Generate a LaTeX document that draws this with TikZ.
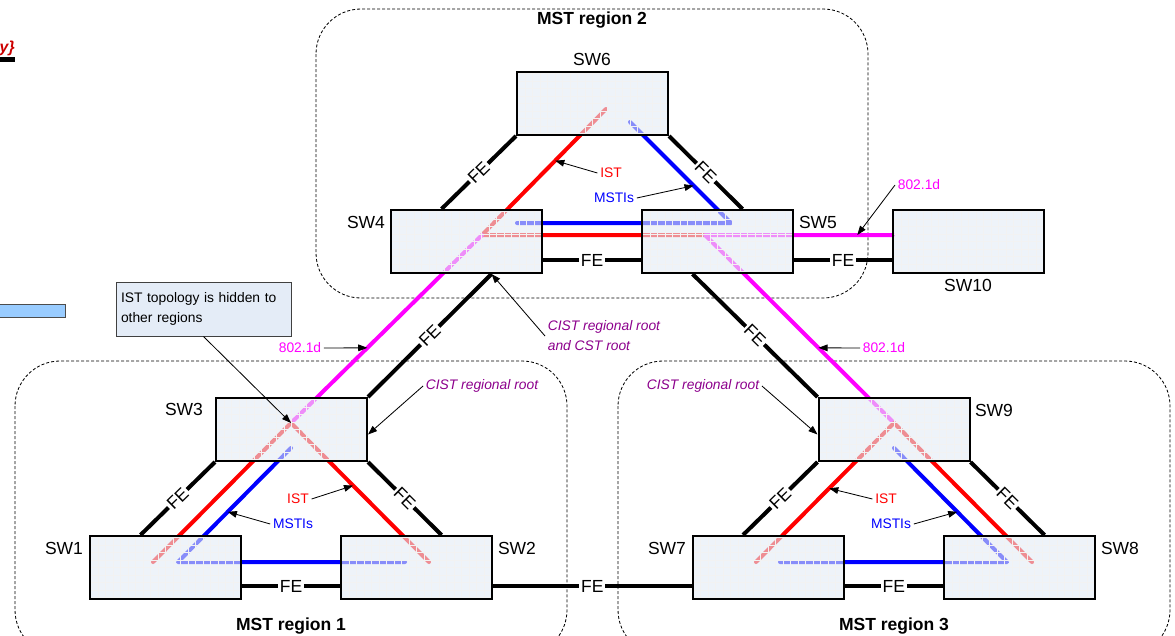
\documentclass[tikz,border=0pt]{standalone}
\usepackage{fontspec}
\setmainfont{Liberation Sans}
\usetikzlibrary{arrows.meta,calc,positioning}

\definecolor{boxfill}{RGB}{227,235,245}
\definecolor{notefill}{RGB}{228,236,247}
\definecolor{cistpurple}{RGB}{140,0,140}
\definecolor{stpmagenta}{RGB}{255,0,255}
\definecolor{legendblue}{RGB}{153,204,255}
\definecolor{fragred}{RGB}{204,0,0}

\begin{document}
\begin{tikzpicture}[
    x=0.6pt, y=-0.6pt,
    font=\fontsize{10.5}{12}\selectfont, >={Triangle[length=5.5pt,width=4pt]},
    swbox/.style={rectangle, draw, line width=1.2pt, fill=boxfill, fill opacity=0.6, minimum width=90.6pt, minimum height=37.8pt, inner sep=0pt,
        path picture={\draw[black!5, line width=0.2pt, step=4.5pt] (path picture bounding box.south west) grid (path picture bounding box.north east);}},
    swname/.style={inner sep=1pt},
    felink/.style={line width=2.4pt},
    fe/.style={fill=white, inner sep=1pt, sloped},
    ist/.style={red, line width=2.4pt, line cap=round, line join=round},
    msti/.style={blue, line width=2.4pt, line cap=round, line join=round},
    legacy/.style={stpmagenta, line width=2.4pt, line cap=round, line join=round},
    region/.style={draw, line width=0.5pt, dash pattern=on 1.8pt off 1.2pt, rounded corners=27pt},
    rtitle/.style={font=\fontsize{10.5}{12}\selectfont\bfseries},
    tag/.style={font=\fontsize{8.3}{12}\selectfont, inner sep=1.5pt},
    cisttag/.style={tag, text=cistpurple, font=\fontsize{8.3}{12}\selectfont\itshape},
    pointer/.style={->, line width=0.5pt}
]
    \useasboundingbox (0,0) rectangle (1175,635);
    % cut-off bits of the page
    \node[anchor=east, text=fragred, font=\fontsize{9.5}{11}\selectfont\bfseries\itshape, inner sep=0pt] (frag) at (15,48) {y\}};
    \fill (-5,57) rectangle (15,62);
    \draw[fill=legendblue, draw=black!70, line width=0.6pt] (-5,304) rectangle (65,317);
    % regions
    \draw[region] (15,361) rectangle (567,655);
    \draw[region] (316,9) rectangle (868,298);
    \draw[region] (618,361) rectangle (1170,655);
    \node[rtitle] (r1) at (291,626) {MST region 1};
    \node[rtitle] (r2) at (592,20) {MST region 2};
    \node[rtitle] (r3) at (894,626) {MST region 3};
    % tree paths, behind the switches
    \coordinate (ist6) at (606,109);
    \coordinate (ist4) at (482,235);
    \coordinate (ist5) at (705,235);
    \coordinate (d10) at (893,235);
    \coordinate (msti4) at (517,223);
    \coordinate (msti5) at (731,223);
    \coordinate (msti6) at (630,122);
    \coordinate (ist3) at (291,423);
    \coordinate (ist1) at (153,562);
    \coordinate (ist2) at (429,562);
    \coordinate (msti3) at (291,448);
    \coordinate (msti1) at (178,562);
    \coordinate (msti2) at (405,562);
    \coordinate (ist9) at (894,423);
    \coordinate (ist7) at (756,562);
    \coordinate (ist8) at (1032,562);
    \coordinate (msti9) at (894,448);
    \coordinate (msti8) at (1007,562);
    \coordinate (msti7) at (780,562);
    \draw[msti] (msti6) -- (msti5) -- (msti4);
    \draw[ist] (ist6) -- (ist4) -- (ist5);
    \draw[legacy] (ist3) -- (ist4);
    \draw[legacy] (ist9) -- (ist5) -- (d10);
    \draw[ist] (ist1) -- (ist3) -- (ist2);
    \draw[msti] (msti3) -- (msti1) -- (msti2);
    \draw[ist] (ist7) -- (ist9) -- (ist8);
    \draw[msti] (msti9) -- (msti8) -- (msti7);
    % switches
    \node[swbox] (sw6) at (592.5,103.5) {};
    \node[swbox] (sw4) at (466.5,241.5) {};
    \node[swbox] (sw5) at (717.5,241.5) {};
    \node[swbox] (sw10) at (968.5,241.5) {};
    \node[swbox] (sw3) at (291.5,429.5) {};
    \node[swbox] (sw1) at (165.5,567.5) {};
    \node[swbox] (sw2) at (416.5,567.5) {};
    \node[swbox] (sw9) at (894,429.5) {};
    \node[swbox] (sw7) at (768,567.5) {};
    \node[swbox] (sw8) at (1019.5,567.5) {};
    \node[swname] (n6) at (592,59) {SW6};
    \node[swname] (n4) at (366,222) {SW4};
    \node[swname] (n5) at (818,222) {SW5};
    \node[swname] (n10) at (968,285) {SW10};
    \node[swname] (n3) at (184,409) {SW3};
    \node[swname] (n1) at (64,548) {SW1};
    \node[swname] (n2) at (517,548) {SW2};
    \node[swname] (n9) at (994,410) {SW9};
    \node[swname] (n7) at (667,548) {SW7};
    \node[swname] (n8) at (1120,548) {SW8};
    % FE links
    \draw[felink] (sw6.south west) -- node[fe] {FE} ([xshift=-15pt]sw4.north);
    \draw[felink] (sw6.south east) -- node[fe] {FE} ([xshift=15pt]sw5.north);
    \draw[felink] ([yshift=-11.1pt]sw4.east) -- node[fe] {FE} ([yshift=-11.1pt]sw5.west);
    \draw[felink] ([yshift=-11.1pt]sw5.east) -- node[fe] {FE} ([yshift=-11.1pt]sw10.west);
    \draw[felink] (sw3.north east) -- node[fe] {FE} ([xshift=15pt]sw4.south);
    \draw[felink] (sw9.north west) -- node[fe] {FE} ([xshift=-15pt]sw5.south);
    \draw[felink] (sw3.south west) -- node[fe] {FE} ([xshift=-15pt]sw1.north);
    \draw[felink] (sw3.south east) -- node[fe] {FE} ([xshift=15pt]sw2.north);
    \draw[felink] ([yshift=-11.1pt]sw1.east) -- node[fe] {FE} ([yshift=-11.1pt]sw2.west);
    \draw[felink] ([yshift=-11.1pt]sw2.east) -- node[fe] {FE} ([yshift=-11.1pt]sw7.west);
    \draw[felink] (sw9.south west) -- node[fe] {FE} ([xshift=-15pt]sw7.north);
    \draw[felink] (sw9.south east) -- node[fe] {FE} ([xshift=15pt]sw8.north);
    \draw[felink] ([yshift=-11.1pt]sw7.east) -- node[fe] {FE} ([yshift=-11.1pt]sw8.west);
    % annotations
    \node[tag, text=red] (ist6t) at (611,173) {IST};
    \node[tag, text=blue] (msti6t) at (614,198) {MSTIs};
    \node[tag, text=stpmagenta] (d10t) at (919,185) {802.1d};
    \node[tag, text=stpmagenta] (d4t) at (300,348) {802.1d};
    \node[tag, text=stpmagenta] (d9t) at (884,348) {802.1d};
    \node[cisttag, align=left, anchor=west] (cst) at (545,336) {CIST regional root\\and CST root};
    \node[cisttag] (root3) at (482,386) {CIST regional root};
    \node[cisttag] (root9) at (703,386) {CIST regional root};
    \node[tag, text=red] (ist3t) at (298,499) {IST};
    \node[tag, text=blue] (msti3t) at (293,524) {MSTIs};
    \node[tag, text=red] (ist9t) at (886,499) {IST};
    \node[tag, text=blue] (msti9t) at (891,524) {MSTIs};
    \node[tag, draw=black!75, line width=0.6pt, fill=notefill, minimum width=105pt, minimum height=32.4pt, text width=99pt, align=left, inner sep=3pt] (note) at (203.5,309) {IST topology is hidden to\\other regions};
    \draw[pointer] (ist6t.west) -- ($(ist6)!0.41!(ist4)$);
    \draw[pointer] (msti6t.east) -- ($(msti6)!0.63!(msti5)$);
    \draw[pointer] (d10t.west) -- ($(ist5)!0.81!(d10)$);
    \draw[pointer] (d4t.east) -- ($(ist3)!0.4!(ist4)$);
    \draw[pointer] (d9t.west) -- ($(ist5)!0.6!(ist9)$);
    \draw[pointer] (cst.west) -- ([xshift=15pt]sw4.south);
    \draw[pointer] (root3.west) -- ([yshift=-3pt]sw3.east);
    \draw[pointer] (root9.east) -- ([yshift=-3pt]sw9.west);
    \draw[pointer] (ist3t.east) -- ($(ist3)!0.45!(ist2)$);
    \draw[pointer] (msti3t.west) -- ($(msti3)!0.56!(msti1)$);
    \draw[pointer] (ist9t.west) -- ($(ist9)!0.47!(ist7)$);
    \draw[pointer] (msti9t.east) -- ($(msti9)!0.56!(msti8)$);
    \draw[pointer] (note.south) -- (ist3);
\end{tikzpicture}
\end{document}
